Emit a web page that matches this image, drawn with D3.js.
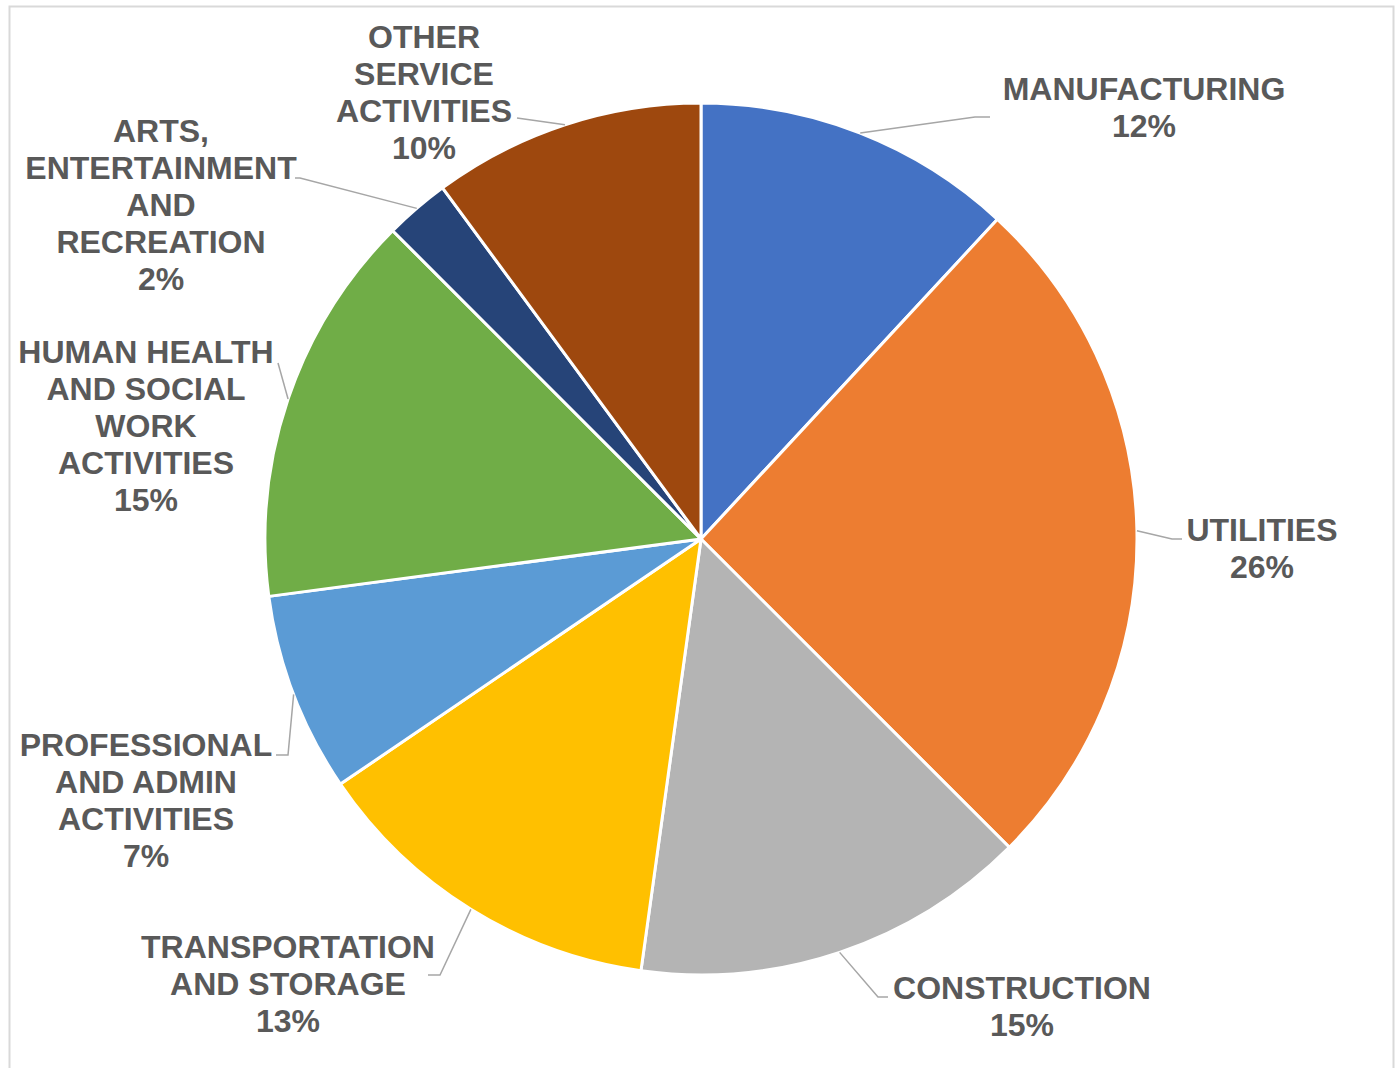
<!DOCTYPE html>
<html><head><meta charset="utf-8">
<script src="https://cdn.jsdelivr.net/npm/d3@7/dist/d3.min.js"></script>
<style>body{margin:0;background:#fff}</style>
</head><body>
<script>
const categories = ["MANUFACTURING","UTILITIES","CONSTRUCTION","TRANSPORTATION AND STORAGE","PROFESSIONAL AND ADMIN ACTIVITIES","HUMAN HEALTH AND SOCIAL WORK ACTIVITIES","ARTS, ENTERTAINMENT AND RECREATION","OTHER SERVICE ACTIVITIES"];
const values = [11.9, 25.6, 14.7, 13.3, 7.4, 14.6, 2.4, 10.1];
const labelLines = [
  ["MANUFACTURING"],
  ["UTILITIES"],
  ["CONSTRUCTION"],
  ["TRANSPORTATION","AND STORAGE"],
  ["PROFESSIONAL","AND ADMIN","ACTIVITIES"],
  ["HUMAN HEALTH","AND SOCIAL","WORK","ACTIVITIES"],
  ["ARTS,","ENTERTAINMENT","AND","RECREATION"],
  ["OTHER","SERVICE","ACTIVITIES"]
];
const colors = ["#4472C4","#ED7D31","#B4B4B4","#FFC000","#5B9BD5","#70AD47","#264478","#9E480E"];

// layout: label center x, first line center y, leader bend and end points
const layout = [
  {x:1144, y:88,  bend:[975,117],  end:[990,117]},
  {x:1262, y:529, bend:[1172,539], end:[1182,539]},
  {x:1022, y:987, bend:[878,997],  end:[888,997]},
  {x:288,  y:946, bend:[440,975],  end:[428,975]},
  {x:146,  y:744, bend:[288,755],  end:[276,755]},
  {x:146,  y:351, bend:[278,363],  end:[278,363]},
  {x:161,  y:130, bend:[300,178],  end:[295,178]},
  {x:424,  y:36,  bend:[517,118],  end:[517,118]}
];

const W = 1399, H = 1068, cx = 701, cy = 539, R = 436, lineH = 37;
const svg = d3.select("body").append("svg").attr("width", W).attr("height", H);
svg.append("rect").attr("x",9.5).attr("y",6.5).attr("width",1384).attr("height",1070)
  .attr("fill","#fff").attr("stroke","#d9d9d9").attr("stroke-width",2);

const total = d3.sum(values);
const pie = d3.pie().sort(null).value(d=>d);
const arcs = pie(values);
const arc = d3.arc().innerRadius(0).outerRadius(R);
const g = svg.append("g").attr("transform", `translate(${cx},${cy})`);
g.selectAll("path").data(arcs).join("path")
  .attr("d", arc).attr("fill", (d,i)=>colors[i])
  .attr("stroke","#fff").attr("stroke-width",3).attr("stroke-linejoin","round");

// leader lines
arcs.forEach((a,i)=>{
  const m = (a.startAngle + a.endAngle)/2;
  const sx = cx + R*Math.sin(m), sy = cy - R*Math.cos(m);
  const L = layout[i];
  svg.append("polyline")
    .attr("points", [[sx,sy], L.bend, L.end].map(p=>p.join(",")).join(" "))
    .attr("fill","none").attr("stroke","#a6a6a6").attr("stroke-width",1.5);
});

// labels
arcs.forEach((a,i)=>{
  const L = layout[i];
  const lines = labelLines[i].concat([Math.round(values[i]/total*100) + "%"]);
  const t = svg.append("text").attr("text-anchor","middle")
    .attr("font-family","'Liberation Sans', Arial, sans-serif").attr("font-weight","bold")
    .attr("font-size",32).attr("fill","#595959");
  lines.forEach((s,k)=>{
    t.append("tspan").attr("x", L.x).attr("y", L.y + k*lineH + 11.5).text(s);
  });
});
</script>
</body></html>
